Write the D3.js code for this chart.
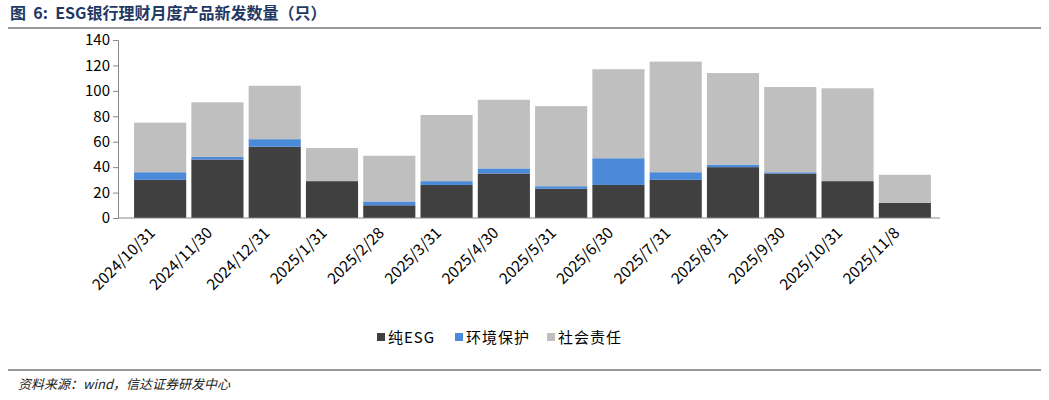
<!DOCTYPE html><html><head><meta charset="utf-8"><script src="https://cdn.jsdelivr.net/npm/d3@7"></script>
<style>body{margin:0;background:#fff}text{font-family:"Noto Sans CJK SC",Arial,sans-serif}</style></head><body><svg id="c" width="1049" height="400"></svg><script>
const categories=["2024/10/31","2024/11/30","2024/12/31","2025/1/31","2025/2/28","2025/3/31","2025/4/30","2025/5/31","2025/6/30","2025/7/31","2025/8/31","2025/9/30","2025/10/31","2025/11/8"];
const pureESG=[30,46,56,29,10,26,35,23,26,30,40,35,29,12];
const environ=[6,2,6,0,3,3,4,2,21,6,2,1,0,0];
const social=[39,43,42,26,36,52,54,63,70,87,72,67,73,22];
const yTicks=[0,20,40,60,80,100,120,140];
const seriesNames=["纯ESG","环境保护","社会责任"];
const colors=["#404040","#4a8ad8","#bfbfbf"];
const svg=d3.select("#c");
svg.append("text").attr("x",10).attr("y",19).attr("font-size",16).attr("font-weight","bold").attr("fill","#1f3864").attr("xml:space","preserve").text("图  6:  ESG银行理财月度产品新发数量（只）");
svg.append("line").attr("x1",8).attr("x2",1041).attr("y1",28).attr("y2",28).attr("stroke","#333");
svg.append("line").attr("x1",8).attr("x2",1041).attr("y1",370).attr("y2",370).attr("stroke","#333");
svg.append("text").attr("x",18).attr("y",389).attr("font-size",13).attr("font-style","italic").attr("fill","#222").text("资料来源：wind，信达证券研发中心");
const y=d3.scaleLinear().domain([0,140]).range([218,40]);
const x=d3.scaleBand().domain(categories).range([131.5,933.5]).paddingInner(0.09).paddingOuter(0.045);
const data=categories.map((c,i)=>({c,a:pureESG[i],b:environ[i],s:social[i]}));
const stack=d3.stack().keys(["a","b","s"])(data);
svg.append("g").selectAll("g").data(stack).join("g").attr("fill",(d,i)=>colors[i])
 .selectAll("rect").data(d=>d).join("rect").attr("x",d=>x(d.data.c)).attr("width",x.bandwidth())
 .attr("y",d=>y(d[1])).attr("height",d=>y(d[0])-y(d[1]));
const ya=svg.append("g").attr("transform","translate(118,0)").call(d3.axisLeft(y).tickValues(yTicks).tickSize(5));
ya.selectAll("text").attr("font-size",15).attr("font-family","Arial").attr("fill","#000");
ya.selectAll("path,line").attr("stroke","#888");
svg.append("line").attr("x1",118).attr("x2",940).attr("y1",218).attr("y2",218).attr("stroke","#888");
categories.forEach(c=>{const cx=x(c)+x.bandwidth()/2;
 svg.append("text").attr("transform",`translate(${cx-8},${230}) rotate(-45)`).attr("text-anchor","end").attr("font-size",15.5).attr("font-family","Arial").attr("dy","0.35em").text(c);});
const lg=svg.append("g");
const lx=[377,455,547];
seriesNames.forEach((n,i)=>{lg.append("rect").attr("x",lx[i]).attr("y",333).attr("width",8).attr("height",8).attr("fill",colors[i]);
 lg.append("text").attr("x",lx[i]+11).attr("y",342.5).attr("font-size",15).attr("letter-spacing",1).text(n);});
</script></body></html>
